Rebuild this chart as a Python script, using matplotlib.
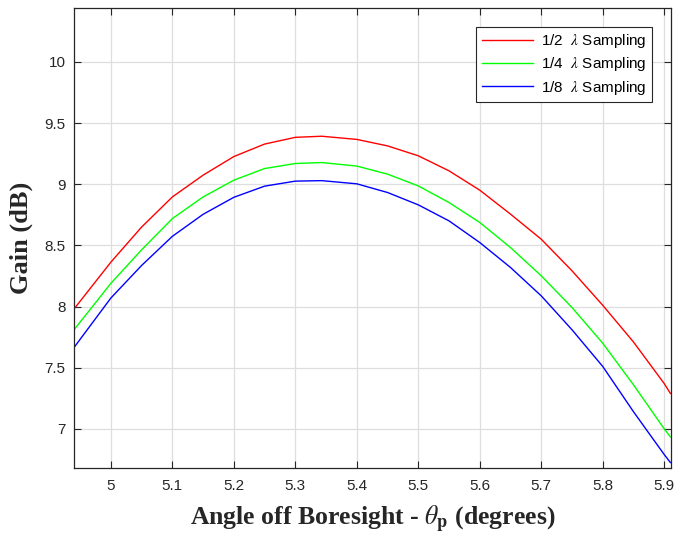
import numpy as np
import matplotlib.pyplot as plt

plt.rcParams['font.family'] = ['Liberation Sans', 'DejaVu Sans']
plt.rcParams['mathtext.fontset'] = 'stix'

# angle off boresight (degrees)
theta = [4.94, 5.0, 5.05, 5.1, 5.15, 5.2, 5.25, 5.3, 5.343, 5.4, 5.45,
         5.5, 5.55, 5.6, 5.65, 5.7, 5.75, 5.8, 5.85, 5.9, 5.91]

gain_half = [7.98, 8.363, 8.650, 8.896, 9.074, 9.226, 9.328, 9.383, 9.392, 9.366, 9.313,
             9.232, 9.109, 8.951, 8.755, 8.550, 8.292, 8.01, 7.71, 7.37, 7.29]
gain_quarter = [7.81, 8.190, 8.464, 8.719, 8.896, 9.033, 9.128, 9.169, 9.177, 9.148, 9.082,
                8.986, 8.850, 8.687, 8.482, 8.251, 7.992, 7.70, 7.36, 7.00, 6.935]
gain_eighth = [7.665, 8.070, 8.336, 8.574, 8.754, 8.893, 8.984, 9.025, 9.029, 9.003, 8.932,
               8.831, 8.700, 8.523, 8.319, 8.087, 7.810, 7.51, 7.14, 6.79, 6.725]

labels = [r'1/2  $\lambda$ Sampling', r'1/4  $\lambda$ Sampling', r'1/8  $\lambda$ Sampling']
colors = ['#ff0000', '#00ff00', '#0000ff']

fig = plt.figure(figsize=(6.76, 5.42), dpi=100)
ax = fig.add_axes([0.1095, 0.1365, 0.8831, 0.8487])

for g, lab, c in zip([gain_half, gain_quarter, gain_eighth], labels, colors):
    ax.plot(theta, g, color=c, lw=1.0, label=lab)

ax.set_xlim(4.94, 5.911)
ax.set_ylim(6.68, 10.44)
ax.set_xticks(np.arange(5.0, 5.95, 0.1))
ax.set_xticklabels(['5', '5.1', '5.2', '5.3', '5.4', '5.5', '5.6', '5.7', '5.8', '5.9'])
ax.set_yticks([7, 7.5, 8, 8.5, 9, 9.5, 10])
ax.set_yticklabels(['7', '7.5', '8', '8.5', '9', '9.5', '10'])

ax.grid(True, color='#dedede', lw=0.9)
ax.set_axisbelow(True)
ax.tick_params(direction='in', top=True, right=True, length=5, width=0.8,
               labelsize=11, colors='#262626', pad=8)
ax.tick_params(axis='y', pad=6)
for s in ax.spines.values():
    s.set_color('#262626')
    s.set_linewidth(0.9)

ax.set_xlabel(r'Angle off Boresight - $\theta_\mathbf{p}$ (degrees)', family='Liberation Serif',
              fontweight='bold', fontsize=18.5, color='#262626', labelpad=8)
ax.set_ylabel('Gain (dB)', family='Liberation Serif', fontweight='bold', fontsize=19,
              color='#262626', labelpad=8)

leg = ax.legend(loc='upper right', bbox_to_anchor=(0.981, 0.976), fontsize=11, fancybox=False,
                framealpha=1, edgecolor='#262626', handlelength=3.4, borderpad=0.35,
                labelspacing=0.35, handletextpad=0.5)
leg.get_frame().set_linewidth(0.8)

fig.savefig('out.png', dpi=100)
